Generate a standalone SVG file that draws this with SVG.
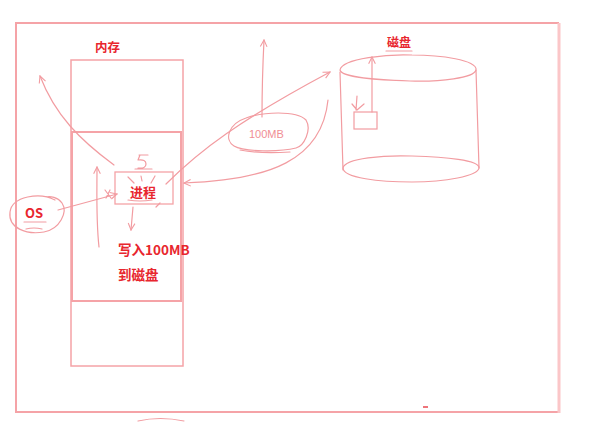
<svg xmlns="http://www.w3.org/2000/svg" width="601" height="423" viewBox="0 0 601 423">
<defs>
<style>
.ln{fill:none;stroke:#f29ca1;stroke-width:1.2;stroke-linecap:round;stroke-linejoin:round}
.fr{fill:none;stroke:#f5a3a7;stroke-width:2}
.t{font-family:"Noto Sans CJK SC","Liberation Sans",sans-serif;font-weight:bold;fill:#e8262e}
.h{font-family:"Liberation Sans",sans-serif;fill:#f08e94;font-size:11px}
</style>
<marker id="ah" viewBox="0 0 10 10" refX="9" refY="5" markerWidth="7" markerHeight="7" orient="auto-start-reverse"><path d="M1,1 L9,5 L1,9" fill="none" stroke="#f29ca1" stroke-width="1.3"/></marker>
</defs>
<rect width="601" height="423" fill="#fff"/>
<g id="frame">
<path class="fr" d="M559,23 H16 V412 H559"/>
<path d="M559,23 V413" fill="none" stroke="#fbc6c8" stroke-width="3"/>
<path d="M423,407 h5" stroke="#e8474f" stroke-width="1.5"/>
<path class="ln" d="M138,421 Q160,416 184,421"/>
</g>
<g id="memory">
<rect x="71" y="60" width="112" height="306" fill="none" stroke="#f5a3a7" stroke-width="1.5"/>
<rect x="72" y="132" width="109" height="169" fill="none" stroke="#f5a3a7" stroke-width="2"/>
<text class="t" x="95" y="52" font-size="12.5">内存</text>
<text class="t" x="118" y="255" font-size="13.5">写入100MB</text>
<text class="t" x="118" y="280" font-size="13.5">到磁盘</text>
</g>
<g id="process">
<rect x="115" y="172" width="58" height="32" fill="none" stroke="#f5a3a7" stroke-width="1.3"/>
<text class="t" x="143" y="197" text-anchor="middle" font-size="13">进程</text>
<path class="ln" d="M139,155 h9 M140,155 l-2,5 q8,-1 8,4 q0,5 -8,4 M135,169 h17"/>
<path class="ln" d="M128,177 l6,6 M155,176 l-4,7 M141,176 l1,5 M128,200 q12,2 24,0 M160,203 l-4,4"/>
</g>
<g id="os">
<text class="t" x="25" y="218" font-size="13">OS</text>
<path class="ln" d="M24,222 h22 M26,229 q8,-2 16,0"/>
<path class="ln" d="M55,200 C40,192 12,196 10,212 C8,228 26,235 44,232 C60,229 68,212 62,203 C58,197 50,196 46,197"/>
</g>
<g id="disk">
<text class="t" x="387" y="47" font-size="12">磁盘</text>
<path class="ln" d="M386,51 h26"/>
<path class="ln" d="M340,70 C342,58 390,54 412,55 C440,55 478,60 476,70 C474,78 440,82 410,81 C380,80 342,78 340,70 Z"/>
<path class="ln" d="M340,72 L343,170 M476,70 L479,168"/>
<path class="ln" d="M343,168 C345,158 385,155 412,156 C445,157 480,160 479,168 C478,176 445,182 412,182 C380,182 343,178 343,168"/>
<rect x="354" y="112" width="23" height="17" fill="none" stroke="#f29ca1" stroke-width="1.2"/>
<path class="ln" d="M357,96 L356,110 M352,104 l5,6 l7,-6"/>
</g>
<g id="size">
<path class="ln" d="M246,118 C262,112 296,110 306,120 C312,130 304,146 296,148 C280,152 244,152 234,146 C224,140 228,124 246,118 Z M240,150 q20,4 50,2"/>
<text class="h" x="249" y="138">100MB</text>
</g>
<g id="connectors">
<path class="ln" marker-end="url(#ah)" d="M58,210 L117,194"/>
<path class="ln" d="M105,190 l6,8 M110,190 l-4,8"/>
<path class="ln" marker-end="url(#ah)" d="M166,184 C200,150 240,120 330,72"/>
<path class="ln" marker-end="url(#ah)" d="M328,100 C322,160 270,180 184,183"/>
<path class="ln" marker-end="url(#ah)" d="M114,165 C80,140 55,115 40,76"/>
<path class="ln" marker-end="url(#ah)" d="M99,247 C96,220 97,195 97,167"/>
<path class="ln" marker-end="url(#ah)" d="M133,207 L131,230"/>
<path class="ln" marker-end="url(#ah)" d="M262,117 C262,90 263,60 264,40"/>
<path class="ln" marker-end="url(#ah)" d="M372,112 L372,57"/>
</g>
</svg>
